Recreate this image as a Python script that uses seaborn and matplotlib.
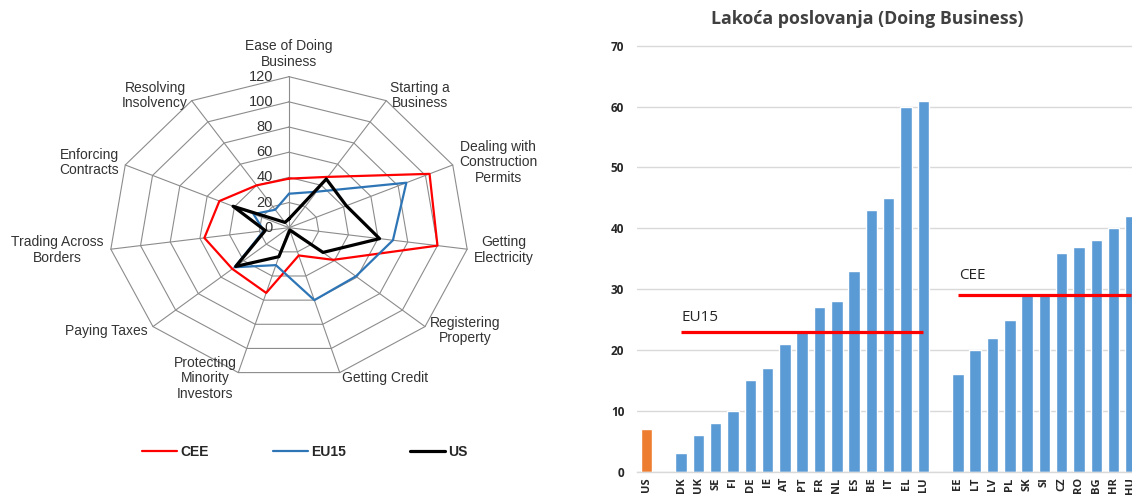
import numpy as np
import pandas as pd
import matplotlib
matplotlib.use("Agg")
import matplotlib.pyplot as plt
from matplotlib.lines import Line2D
import seaborn as sns

# ---------------- data ----------------
radar_categories = ["Ease of Doing\nBusiness", "Starting a\nBusiness",
                    "Dealing with\nConstruction\nPermits", "Getting\nElectricity",
                    "Registering\nProperty", "Getting Credit",
                    "Protecting\nMinority\nInvestors", "Paying Taxes",
                    "Trading Across\nBorders", "Enforcing\nContracts",
                    "Resolving\nInsolvency"]
radar_cee = [39, 48, 103, 100, 39, 23, 54, 50, 57, 51, 40]
radar_eu15 = [27, 34, 86, 70, 59, 60, 31, 48, 17, 26, 17]
radar_us = [7, 46, 42, 61, 30, 2, 24, 47, 16, 41, 5]
ring_ticks = [0, 20, 40, 60, 80, 100, 120]

us_countries = ["US"]
us_values = [7]
eu15_countries = ["DK", "UK", "SE", "FI", "DE", "IE", "AT", "PT", "FR", "NL",
                  "ES", "BE", "IT", "EL", "LU"]
eu15_values = [3, 6, 8, 10, 15, 17, 21, 23, 27, 28, 33, 43, 45, 60, 61]
cee_countries = ["EE", "LT", "LV", "PL", "SK", "SI", "CZ", "RO", "BG", "HR", "HU"]
cee_values = [16, 20, 22, 25, 29, 29, 36, 37, 38, 40, 42]
eu15_avg = 23
cee_avg = 29
bar_title = "Lakoća poslovanja (Doing Business)"
bar_yticks = [0, 10, 20, 30, 40, 50, 60, 70]

# ---------------- style ----------------
sns.set_theme(style="white")
plt.rcParams["font.family"] = ["Liberation Sans", "DejaVu Sans"]

W, H = 1132, 495
fig = plt.figure(figsize=(W / 100, H / 100), dpi=100)

# ---------------- radar (left) ----------------
cx, cy = 289, 227.7
xr, yr = 175, 170
px_x, px_y = 1.5, 151 / 120
axr = fig.add_axes([(cx - xr * px_x) / W, (H - cy - yr * px_y) / H,
                    2 * xr * px_x / W, 2 * yr * px_y / H])
axr.set_xlim(-xr, xr)
axr.set_ylim(-yr, yr)
axr.axis("off")

n = len(radar_categories)
theta = np.arange(n) * 2 * np.pi / n
grid_col = "#8c8c8c"
rmax = ring_ticks[-1]
for rv in ring_ticks[1:]:
    xs = np.r_[rv * np.sin(theta), rv * np.sin(theta[0])]
    ys = np.r_[rv * np.cos(theta), rv * np.cos(theta[0])]
    axr.plot(xs, ys, color=grid_col, lw=0.8, zorder=1)
for t in theta:
    axr.plot([0, rmax * np.sin(t)], [0, rmax * np.cos(t)], color=grid_col, lw=0.8, zorder=1)

text_col = "#333333"
for rv in ring_ticks:
    axr.annotate(str(rv), xy=(0, rv), xytext=(-16, 0), textcoords="offset pixels",
                 ha="right", va="center", fontsize=10.5, color=text_col, zorder=2)

for lab, t in zip(radar_categories, theta):
    s, c = np.sin(t), np.cos(t)
    if abs(s) < 0.15:
        ha, va, dx, dy = "center", "bottom", 0, 8
    else:
        ha = "left" if s > 0 else "right"
        va, dx, dy = "center", 7 * s, 6 * c
    axr.annotate(lab, xy=(rmax * s, rmax * c), xytext=(dx, dy), textcoords="offset pixels",
                 ha=ha, va=va, multialignment="center", fontsize=10, color=text_col,
                 linespacing=1.15)

series = [("CEE", radar_cee, "#ff0000", 1.6),
          ("EU15", radar_eu15, "#2e75b6", 1.6),
          ("US", radar_us, "#000000", 2.3)]
for name, vals, col, lw in series:
    v = np.r_[vals, vals[0]]
    tt = np.r_[theta, theta[0]]
    df = pd.DataFrame({"x": v * np.sin(tt), "y": v * np.cos(tt)})
    sns.lineplot(data=df, x="x", y="y", sort=False, estimator=None, color=col,
                 lw=lw, ax=axr, zorder=3)
axr.set_xlim(-xr, xr)
axr.set_ylim(-yr, yr)

handles = [Line2D([], [], color=col, lw=lw) for _, _, col, lw in series]
fig.legend(handles, [s[0] for s in series], loc="center", ncol=3,
           bbox_to_anchor=(305 / W, 1 - 452 / H), frameon=False,
           prop={"weight": "bold", "size": 10}, handlelength=2.5,
           handletextpad=0.25, columnspacing=4.6)

# ---------------- bar chart (right) ----------------
order = us_countries + [" "] + eu15_countries + ["  "] + cee_countries
bdf = pd.DataFrame({
    "country": us_countries + eu15_countries + cee_countries,
    "value": us_values + eu15_values + cee_values,
    "group": ["US"] * len(us_countries) + ["EU15"] * len(eu15_countries) + ["CEE"] * len(cee_countries),
})
slot = 17.3
x0_px = 646.5
left_px = 636.7
xl = -(x0_px - left_px) / slot
xr_lim = (W - x0_px) / slot
y0_px, ppu = 471.7, 6.085
ytop = 72
axb = fig.add_axes([left_px / W, (H - y0_px) / H, (W - left_px) / W, ytop * ppu / H])
sns.barplot(data=bdf, x="country", y="value", hue="group", order=order,
            palette={"US": "#ed7d31", "EU15": "#5b9bd5", "CEE": "#5b9bd5"},
            saturation=1, width=0.66, dodge=False, legend=False, ax=axb)
axb.set_xlim(xl, xr_lim)
axb.set_ylim(0, ytop)
axb.set_yticks(bar_yticks)
axb.yaxis.grid(True, color="#d9d9d9", lw=1)
axb.set_axisbelow(True)
for sp in ["top", "right", "left"]:
    axb.spines[sp].set_visible(False)
axb.spines["bottom"].set_color("#d9d9d9")
axb.spines["bottom"].set_linewidth(1)
axb.set_xlabel("")
axb.set_ylabel("")
axb.tick_params(axis="y", length=0, pad=9)
axb.tick_params(axis="x", length=0, pad=4)
for lab in axb.get_yticklabels():
    lab.set_fontfamily(["Open Sans", "DejaVu Sans"])
    lab.set_fontweight("bold")
    lab.set_fontsize(8.5)
    lab.set_color("#262626")
    lab.set_horizontalalignment("right")
for lab in axb.get_xticklabels():
    lab.set_rotation(90)
    lab.set_fontfamily(["Open Sans", "DejaVu Sans"])
    lab.set_fontweight("bold")
    lab.set_fontsize(8)
    lab.set_color("#262626")
    lab.set_verticalalignment("top")

i_eu0, i_eu1 = order.index(eu15_countries[0]), order.index(eu15_countries[-1])
i_ce0, i_ce1 = order.index(cee_countries[0]), order.index(cee_countries[-1])
axb.plot([i_eu0, i_eu1], [eu15_avg, eu15_avg], color="#ff0000", lw=2.3, zorder=4,
         solid_capstyle="butt")
axb.plot([i_ce0, i_ce1], [cee_avg, cee_avg], color="#ff0000", lw=2.3, zorder=4,
         solid_capstyle="butt")
axb.annotate("EU15", xy=(i_eu0, eu15_avg), xytext=(0, 7), textcoords="offset pixels",
             ha="left", va="bottom", fontsize=11, color="#262626",
             fontfamily=["Open Sans", "DejaVu Sans"])
axb.annotate("CEE", xy=(i_ce0, cee_avg), xytext=(1, 12), textcoords="offset pixels",
             ha="left", va="bottom", fontsize=11, color="#262626",
             fontfamily=["Open Sans", "DejaVu Sans"])

fig.text(867.5 / W, 1 - 19.3 / H, bar_title, ha="center", va="center",
         fontsize=12.8, fontweight="bold", color="#404040",
         fontfamily=["Open Sans", "DejaVu Sans"])

fig.savefig("out.png", dpi=100)
